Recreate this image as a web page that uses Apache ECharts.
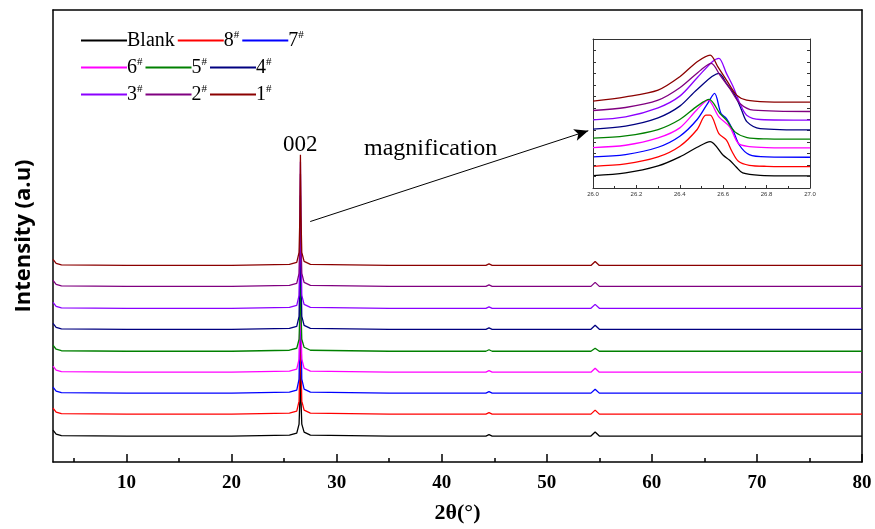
<!DOCTYPE html>
<html>
<head>
<meta charset="utf-8">
<script src="https://cdn.jsdelivr.net/npm/echarts@6/dist/echarts.min.js"></script>
<style>
  html, body { margin: 0; padding: 0; background: #fff; }
  #chart { width: 875px; height: 529px; }
</style>
</head>
<body>
<div id="chart"></div>
<script>
// series names (legend order) and colours
const names = ['Blank', '8#', '7#', '6#', '5#', '4#', '3#', '2#', '1#']
const colors = ['#000000', '#ff0000', '#0000ff', '#ff00ff', '#008000', '#000080', '#8b00ff', '#800080', '#8b0000']

// main pattern: 2θ positions and stacked intensities (a.u.)
const mainTheta = [3, 3.3, 3.8, 10, 20, 25.5, 26.2, 26.42, 26.5, 26.55, 26.6, 26.68, 26.9, 27.5, 35, 44.2, 44.5, 44.8, 54.2, 54.6, 55.0, 65, 80]
const mainBlank = [32, 28, 26.5, 26, 26, 27, 29, 38, 63, 108, 63, 38, 30, 27, 26, 26, 27.5, 26, 26, 30, 26, 26, 26]
const main8 = [54, 50, 48.5, 48, 48, 49, 51, 61, 103, 170, 103, 61, 52, 49, 48, 48, 49.5, 48, 48, 52, 48, 48, 48]
const main7 = [75, 71, 69.5, 69, 69, 70, 72, 83, 137, 221, 137, 83, 73, 70, 69, 69, 70.5, 69, 69, 73, 69, 69, 69]
const main6 = [96, 92, 90.5, 90, 90, 91, 93, 103, 141, 204, 141, 103, 94, 91, 90, 90, 91.5, 90, 90, 94, 90, 90, 90]
const main5 = [117, 113, 111.5, 111, 111, 112, 114, 123, 153, 204, 153, 123, 115, 112, 111, 111, 112.5, 111, 111, 114, 111, 111, 111]
const main4 = [139, 135, 133.5, 133, 133, 134, 136, 146, 193, 267, 193, 146, 137, 134, 133, 133, 134.5, 133, 133, 137, 133, 133, 133]
const main3 = [160, 156, 154.5, 154, 154, 155, 157, 167, 220, 301, 220, 167, 158, 155, 154, 154, 155.5, 154, 154, 158, 154, 154, 154]
const main2 = [182, 178, 176.5, 176, 176, 177, 179, 189, 227, 289, 227, 189, 180, 177, 176, 176, 177.5, 176, 176, 180, 176, 176, 176]
const main1 = [203, 199, 197.5, 197, 197, 198, 200, 210, 247, 308, 247, 210, 201, 198, 197, 197, 198.5, 197, 197, 201, 197, 197, 197]
const mainValues = [mainBlank, main8, main7, main6, main5, main4, main3, main2, main1]

// magnified 002 peak (inset), [2θ, intensity]
const insetBlank = [[26.0, 37], [26.15, 45], [26.3, 66], [26.4, 93], [26.48, 122], [26.54, 139], [26.6, 98], [26.63, 83], [26.66, 63], [26.69, 45], [26.77, 38], [27.0, 36]]
const inset8 = [[26.0, 65], [26.15, 72], [26.3, 93], [26.4, 125], [26.48, 175], [26.52, 218], [26.54, 218], [26.58, 163], [26.615, 143], [26.64, 110], [26.67, 80], [26.72, 68], [26.8, 65], [27.0, 64]]
const inset7 = [[26.0, 93], [26.15, 100], [26.3, 122], [26.4, 155], [26.48, 205], [26.53, 255], [26.56, 283], [26.59, 223], [26.615, 208], [26.645, 173], [26.675, 128], [26.72, 100], [26.8, 93], [27.0, 92]]
const inset6 = [[26.0, 121], [26.15, 128], [26.3, 150], [26.4, 180], [26.48, 235], [26.53, 263], [26.58, 213], [26.63, 183], [26.67, 133], [26.72, 124], [26.8, 121], [27.0, 120]]
const inset5 = [[26.0, 149], [26.15, 156], [26.3, 175], [26.4, 205], [26.48, 245], [26.535, 265], [26.585, 223], [26.615, 203], [26.654, 168], [26.71, 151], [26.8, 147], [27.0, 146]]
const inset4 = [[26.0, 176], [26.15, 185], [26.3, 210], [26.4, 245], [26.48, 295], [26.58, 343], [26.615, 313], [26.654, 278], [26.685, 233], [26.71, 198], [26.77, 178], [27.0, 174]]
const inset3 = [[26.0, 204], [26.15, 213], [26.3, 240], [26.4, 275], [26.48, 330], [26.55, 378], [26.58, 388], [26.615, 343], [26.646, 303], [26.677, 253], [26.708, 218], [26.77, 205], [27.0, 203]]
const inset2 = [[26.0, 232], [26.15, 241], [26.3, 263], [26.4, 300], [26.5, 355], [26.545, 373], [26.585, 338], [26.63, 298], [26.677, 253], [26.74, 233], [27.0, 229]]
const inset1 = [[26.0, 260], [26.15, 273], [26.3, 293], [26.4, 333], [26.48, 378], [26.54, 398], [26.575, 363], [26.615, 323], [26.662, 278], [26.708, 263], [26.8, 258], [27.0, 257]]
const insetValues = [insetBlank, inset8, inset7, inset6, inset5, inset4, inset3, inset2, inset1]

const majorTicks = [10, 20, 30, 40, 50, 60, 70, 80]
const minorTicks = [5, 15, 25, 35, 45, 55, 65, 75]

const serif = '"Liberation Serif", "Times New Roman", serif'
const chart = echarts.init(document.getElementById('chart'))

function legendRow(data, top) {
  return {
    data,
    left: 76,
    top,
    icon: 'rect',
    itemWidth: 46,
    itemHeight: 2,
    itemGap: 3,
    formatter: name => name === 'Blank' ? '{n|Blank}' : '{n|' + name[0] + '}{s|#}',
    textStyle: {
      color: '#000',
      padding: [0, 0, 0, -5],
      rich: {
        n: { fontFamily: serif, fontSize: 20, color: '#000' },
        s: { fontFamily: serif, fontSize: 11, color: '#000', padding: [0, 0, 10, 0] }
      }
    }
  }
}

const series = []
names.forEach((name, i) => {
  series.push({
    name,
    type: 'line',
    xAxisIndex: 0,
    yAxisIndex: 0,
    showSymbol: false,
    data: mainTheta.map((t, k) => [t, mainValues[i][k]]),
    lineStyle: { color: colors[i], width: 1.3 },
    itemStyle: { color: colors[i] },
    z: 2 + i
  })
  series.push({
    name,
    type: 'line',
    xAxisIndex: 3,
    yAxisIndex: 2,
    showSymbol: false,
    smooth: 0.3,
    data: insetValues[i],
    lineStyle: { color: colors[i], width: 1.3 },
    itemStyle: { color: colors[i] },
    z: 2 + i
  })
})

// arrow pointing to the inset
series[0].markLine = {
  silent: true,
  symbol: ['none', 'arrow'],
  symbolSize: [9, 14],
  label: { show: false },
  lineStyle: { color: '#000', width: 1, type: 'solid' },
  data: [[{ coord: [27.48, 241] }, { coord: [53.95, 332] }]]
}

const noZero = { onZero: false }

const option = {
  animation: false,
  backgroundColor: '#fff',
  legend: [
    legendRow(['Blank', '8#', '7#'], 25),
    legendRow(['6#', '5#', '4#'], 52),
    legendRow(['3#', '2#', '1#'], 79)
  ],
  grid: [
    { left: 53, right: 13, top: 10, bottom: 66 },
    { left: 593, top: 39, width: 217, height: 149, show: true, backgroundColor: '#fff', borderWidth: 0 }
  ],
  xAxis: [
    {
      gridIndex: 0, type: 'value', position: 'bottom', min: 3, max: 80,
      axisLine: { ...noZero, lineStyle: { color: '#000', width: 1.5 } },
      axisTick: { inside: true, length: 8, customValues: majorTicks, lineStyle: { color: '#000', width: 1.5 } },
      axisLabel: { customValues: majorTicks, margin: 12, color: '#000', fontFamily: serif, fontWeight: 'bold', fontSize: 19 },
      splitLine: { show: false },
      name: '2θ(°)', nameLocation: 'middle', nameGap: 40,
      nameTextStyle: { color: '#000', fontFamily: serif, fontWeight: 'bold', fontSize: 22 }
    },
    {
      gridIndex: 0, type: 'value', position: 'bottom', min: 3, max: 80,
      axisLine: { show: false, ...noZero },
      axisTick: { inside: true, length: 4, customValues: minorTicks, lineStyle: { color: '#000', width: 1.5 } },
      axisLabel: { show: false },
      splitLine: { show: false }
    },
    {
      gridIndex: 0, type: 'value', position: 'top', min: 3, max: 80,
      axisLine: { ...noZero, lineStyle: { color: '#000', width: 1.5 } },
      axisTick: { show: false }, axisLabel: { show: false }, splitLine: { show: false }
    },
    {
      gridIndex: 1, type: 'value', position: 'bottom', min: 26, max: 27, interval: 0.2, z: 5,
      axisLine: { ...noZero, lineStyle: { color: '#333', width: 1 } },
      axisTick: { inside: true, length: 3, lineStyle: { color: '#333' } },
      minorTick: { show: true, splitNumber: 2, length: 2, lineStyle: { color: '#333' } },
      axisLabel: { margin: 3, fontSize: 6, color: '#333', formatter: v => v.toFixed(1) },
      splitLine: { show: false }
    },
    {
      gridIndex: 1, type: 'value', position: 'top', min: 26, max: 27, z: 5,
      axisLine: { ...noZero, lineStyle: { color: '#333', width: 1 } },
      axisTick: { show: false }, axisLabel: { show: false }, splitLine: { show: false }
    }
  ],
  yAxis: [
    {
      gridIndex: 0, type: 'value', position: 'left', min: 0, max: 453,
      axisLine: { show: true, ...noZero, lineStyle: { color: '#000', width: 1.5 } },
      axisTick: { show: false }, axisLabel: { show: false }, splitLine: { show: false },
      name: 'Intensity (a.u)', nameLocation: 'middle', nameGap: 18,
      nameTextStyle: { color: '#000', fontFamily: '"Open Sans", sans-serif', fontWeight: 'bold', fontSize: 22 }
    },
    {
      gridIndex: 0, type: 'value', position: 'right', min: 0, max: 453,
      axisLine: { show: true, ...noZero, lineStyle: { color: '#000', width: 1.5 } },
      axisTick: { show: false }, axisLabel: { show: false }, splitLine: { show: false }
    },
    {
      gridIndex: 1, type: 'value', position: 'left', min: 0, max: 446, interval: 446 / 13, z: 5,
      axisLine: { show: true, ...noZero, lineStyle: { color: '#333', width: 1 } },
      axisTick: { show: true, inside: true, length: 3, lineStyle: { color: '#333' } },
      axisLabel: { show: false }, splitLine: { show: false }
    },
    {
      gridIndex: 1, type: 'value', position: 'right', min: 0, max: 446, interval: 446 / 13, z: 5,
      axisLine: { show: true, ...noZero, lineStyle: { color: '#333', width: 1 } },
      axisTick: { show: true, inside: true, length: 3, lineStyle: { color: '#333' } },
      axisLabel: { show: false }, splitLine: { show: false }
    }
  ],
  graphic: [
    { type: 'text', left: 283, top: 133, style: { text: '002', fontFamily: serif, fontSize: 23, fill: '#000' } },
    { type: 'text', left: 364, top: 137, style: { text: 'magnification', fontFamily: serif, fontSize: 24, fill: '#000' } }
  ],
  series
}

chart.setOption(option)
</script>
</body>
</html>
